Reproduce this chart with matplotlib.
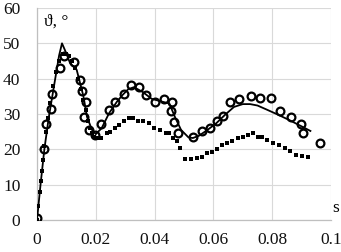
import matplotlib
matplotlib.use("Agg")
import matplotlib.pyplot as plt

plt.rcParams['font.family'] = ['Liberation Serif', 'DejaVu Serif']

# model curve (solid)
line_t = [0.0, 0.0012, 0.0025, 0.004, 0.006, 0.0075, 0.0085, 0.0098, 0.0113, 0.0135,
          0.0158, 0.017, 0.0187, 0.020, 0.022, 0.0245, 0.0272, 0.029, 0.031, 0.033,
          0.036, 0.039, 0.042, 0.045, 0.047, 0.049, 0.0515, 0.053, 0.055, 0.058,
          0.061, 0.064, 0.067, 0.070, 0.0725, 0.075, 0.078, 0.082, 0.086, 0.090, 0.093]
line_v = [0.0, 10.0, 20.0, 29.0, 39.0, 46.5, 50.0, 47.5, 44.3, 42.5,
          35.0, 29.2, 25.5, 24.3, 26.0, 30.2, 33.5, 35.3, 37.0, 37.6,
          36.2, 34.3, 33.6, 33.0, 29.0, 25.5, 23.4, 23.2, 23.8, 25.5,
          27.4, 29.8, 32.0, 32.8, 32.8, 32.4, 31.3, 29.8, 28.2, 26.5, 25.2]

# experiment (open circles)
circ_t = [0.0, 0.0024, 0.0030, 0.0047, 0.0050, 0.0077, 0.0091, 0.0126, 0.0145, 0.0152,
          0.0165, 0.0161, 0.0178, 0.0198, 0.0218, 0.0246, 0.0266, 0.0295, 0.0321, 0.0346,
          0.0371, 0.0400, 0.0433, 0.0460, 0.0457, 0.0465, 0.0481, 0.0531, 0.0562, 0.0588,
          0.0611, 0.0634, 0.0658, 0.0688, 0.0727, 0.0759, 0.0795, 0.0827, 0.0865, 0.0897,
          0.0906, 0.0962]
circ_v = [0.5, 20.0, 27.2, 31.5, 35.8, 43.0, 46.3, 44.8, 39.5, 36.5,
          33.5, 29.1, 25.6, 24.0, 27.1, 31.1, 33.5, 35.7, 38.2, 37.6,
          35.4, 33.5, 34.2, 33.3, 30.9, 27.8, 24.7, 23.6, 25.3, 26.0,
          28.1, 29.4, 33.5, 34.2, 35.0, 34.4, 34.4, 30.9, 29.1, 27.3,
          24.7, 21.9]

# second model (dotted)
dot_t = [0.0, 0.0005, 0.001, 0.0013, 0.0017, 0.002, 0.0025, 0.003, 0.0037, 0.0045,
         0.0055, 0.0065, 0.0075, 0.0087, 0.010, 0.011, 0.012, 0.013, 0.014, 0.015,
         0.0158, 0.0165, 0.0172, 0.018, 0.0187, 0.0195, 0.0204, 0.0218, 0.0238, 0.0249,
         0.0266, 0.028, 0.0297, 0.0312, 0.0327, 0.0342, 0.0359, 0.038, 0.0397, 0.042,
         0.0439, 0.045, 0.0462, 0.0477, 0.0488, 0.0502, 0.0524, 0.0545, 0.0562, 0.0579,
         0.0596, 0.0613, 0.063, 0.0647, 0.0664, 0.0682, 0.0699, 0.0716, 0.0733, 0.075,
         0.0767, 0.0784, 0.0804, 0.0824, 0.0843, 0.0861, 0.0881, 0.0903, 0.0923]
dot_v = [0.0, 4.0, 8.0, 11.0, 14.0, 17.0, 21.0, 25.0, 29.0, 33.0,
         38.0, 42.0, 45.0, 47.0, 47.0, 46.5, 45.0, 43.0, 40.0, 37.0,
         34.0, 31.0, 28.0, 26.0, 24.5, 23.5, 23.1, 23.1, 24.5, 25.0,
         26.0, 26.9, 28.1, 28.8, 28.8, 28.1, 27.9, 27.4, 26.0, 25.5,
         24.7, 24.5, 23.1, 22.5, 20.3, 17.2, 17.2, 17.5, 17.7, 18.9,
         19.3, 20.1, 21.2, 21.9, 22.5, 23.1, 23.6, 24.1, 24.5, 23.6,
         23.6, 22.6, 21.9, 21.2, 20.3, 19.6, 18.4, 18.0, 17.8]

xticks = [0, 0.02, 0.04, 0.06, 0.08, 0.1]
xtick_labels = ['0', '0.02', '0.04', '0.06', '0.08', '0.1']
yticks = [0, 10, 20, 30, 40, 50, 60]

fig = plt.figure(figsize=(3.41, 2.52), dpi=100)
ax = fig.add_axes([37 / 341, 32 / 252, 294 / 341, 212 / 252])

ax.plot(dot_t, dot_v, linestyle='none', marker='s', markersize=2.4,
        markeredgewidth=0, color='black', zorder=3)
ax.plot(line_t, line_v, color='black', lw=1.3, zorder=4)
ax.plot(circ_t, circ_v, linestyle='none', marker='o', markersize=5.6,
        markerfacecolor='none', markeredgecolor='black', markeredgewidth=1.6, zorder=5)

ax.set_xlim(0, 0.1)
ax.set_ylim(0, 60)
ax.set_xticks(xticks)
ax.set_xticklabels(xtick_labels)
ax.set_yticks(yticks)
ax.tick_params(length=0, labelsize=12.5, colors='#111111')
ax.tick_params(axis='y', pad=12)
ax.tick_params(axis='x', pad=9)
ax.grid(True, color='#d9d9d9', lw=0.8)
ax.set_axisbelow(True)
for side in ['top', 'right']:
    ax.spines[side].set_visible(False)
for side in ['left', 'bottom']:
    ax.spines[side].set_color('#bfbfbf')
    ax.spines[side].set_linewidth(0.9)

ax.text(0.0025, 56, 'ϑ, °', fontsize=12.5, va='center', ha='left')
ax.text(1.005, 0.02, 's', transform=ax.transAxes, fontsize=12.5, va='bottom', ha='left')

fig.savefig('out.png', dpi=100)
